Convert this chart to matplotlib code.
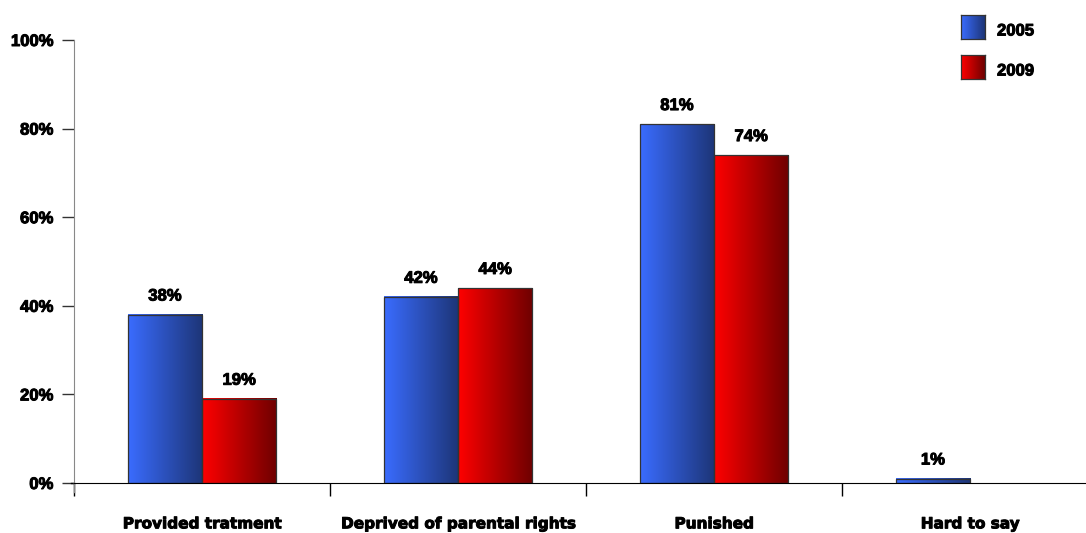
import numpy as np
import matplotlib
matplotlib.use("Agg")
import matplotlib.pyplot as plt
from matplotlib.colors import LinearSegmentedColormap
import matplotlib.patheffects as pe

categories = ["Provided tratment", "Deprived of parental rights", "Punished", "Hard to say"]
series_names = ["2005", "2009"]
values_2005 = [38, 42, 81, 1]
values_2009 = [19, 44, 74, None]
y_ticks = [0, 20, 40, 60, 80, 100]

FONT = "Liberation Sans"
CAT_FONT = "DejaVu Sans"
FS = 12
heavy = [pe.withStroke(linewidth=0.7, foreground="black")]
blue_cmap = LinearSegmentedColormap.from_list("blue", ["#3a6cff", "#1d3577"])
red_cmap = LinearSegmentedColormap.from_list("red", ["#ff0000", "#6e0000"])
grad = np.linspace(0, 1, 256).reshape(1, -1)

fig = plt.figure(figsize=(10.86, 5.33), dpi=100)
ax = fig.add_axes([74 / 1086, 50 / 533, 1024 / 1086, 443 / 533])

centers = np.arange(len(categories)) + 0.5
width = 0.29


def gradient_bars(offsets, vals, cmap):
    xs, hs = [], []
    for c, v in zip(offsets, vals):
        if v is None:
            continue
        xs.append(c)
        hs.append(v)
    bars = ax.bar(xs, hs, width=width, facecolor="none", edgecolor="#333333",
                  linewidth=0.9, zorder=3)
    for b, v in zip(bars, hs):
        x0, w, h = b.get_x(), b.get_width(), b.get_height()
        ax.imshow(grad, cmap=cmap, extent=(x0, x0 + w, 0, h), aspect="auto",
                  zorder=2, interpolation="bicubic")
        ax.annotate(f"{v:.0f}%", (x0 + w / 2, h), xytext=(0, 8),
                    textcoords="offset points", ha="center", va="bottom",
                    fontfamily=FONT, fontweight="bold", fontsize=FS,
                    path_effects=heavy)
    return bars


gradient_bars(centers - width / 2, values_2005, blue_cmap)
gradient_bars(centers + width / 2, values_2009, red_cmap)

ax.set_xlim(0, len(categories))
ax.set_ylim(0, 100)

ax.spines["top"].set_visible(False)
ax.spines["right"].set_visible(False)
ax.spines["left"].set_color("#888888")
ax.spines["bottom"].set_color("black")

ax.set_yticks(y_ticks)
ax.set_yticklabels([f"{t}%" for t in y_ticks], fontfamily=FONT,
                   fontweight="bold", fontsize=FS)
for lbl in ax.get_yticklabels():
    lbl.set_path_effects(heavy)
ax.tick_params(axis="y", length=9, width=1, color="#333333", pad=6)

ax.set_xticks(np.arange(len(categories) + 1))
ax.set_xticklabels([])
ax.tick_params(axis="x", which="major", length=9, width=1, color="black", direction="out")
ax.set_xticks(centers, minor=True)
ax.set_xticklabels(categories, minor=True, fontfamily=CAT_FONT, fontweight="bold",
                   fontsize=11)
for lbl in ax.get_xticklabels(minor=True):
    lbl.set_path_effects(heavy)
ax.tick_params(axis="x", which="minor", length=0, pad=24)

# extend zero line to the left of the y axis
ax.plot([-0.011, 0], [0, 0], color="black", lw=1, clip_on=False)
ax.plot([0, 0], [0, -2], color="#888888", lw=1, clip_on=False)

# legend with gradient swatches
for i, (name, cmap) in enumerate(zip(series_names, [blue_cmap, red_cmap])):
    top = 15 + i * 40
    sw = fig.add_axes([961 / 1086, 1 - (top + 24) / 533, 24 / 1086, 24 / 533])
    sw.imshow(grad, cmap=cmap, aspect="auto", interpolation="bicubic")
    sw.set_xticks([])
    sw.set_yticks([])
    for s in sw.spines.values():
        s.set_color("#333333")
        s.set_linewidth(0.9)
    fig.text(997 / 1086, 1 - (top + 16) / 533, name, fontfamily=FONT,
             fontweight="bold", fontsize=FS, va="center", ha="left",
             path_effects=heavy)

fig.savefig("out.png", dpi=100)
